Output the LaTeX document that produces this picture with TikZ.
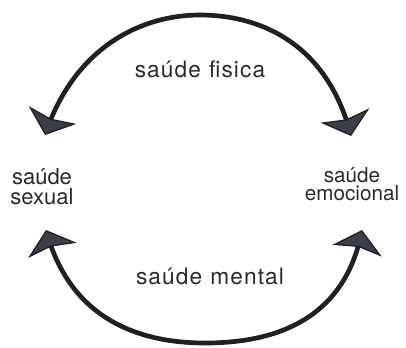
\documentclass[tikz,border=0pt]{standalone}
\usepackage{fontspec}
\setmainfont{TeX Gyre Heros}
\usetikzlibrary{arrows.meta,bending}
\definecolor{linecol}{HTML}{1F1F24}
\definecolor{tipcol}{HTML}{3B3E4B}
\definecolor{txtcol}{HTML}{2A2A2A}
\tikzset{
  lbl/.style={inner sep=0pt, text=txtcol, align=center},
  sidefont/.style={font=\fontsize{16.5}{15}\selectfont},
  midfont/.style={font=\addfontfeatures{LetterSpace=5}\fontsize{17}{15}\selectfont},
  bigtip/.tip={Stealth[length=16pt,width=38pt,inset=3pt,line width=1pt,fill=tipcol]},
  arc/.style={draw=linecol, line width=3.5pt, bigtip-bigtip}
}
\begin{document}
\begin{tikzpicture}[x=0.75pt,y=-0.75pt]
\useasboundingbox (0,0) rectangle (406,347);
\node[lbl, sidefont] (sex) at (42,187) {saúde\\sexual};
\node[lbl, font=\fontsize{15.5}{14}\selectfont] (emo) at (352,184) {saúde\\emocional};
\node[lbl, midfont, anchor=base] (fis) at (200,77) {saúde\hspace{6pt}fisica};
\node[lbl, midfont, anchor=base] (men) at (210,284) {saúde\hspace{6pt}mental};
\coordinate (tl) at (45,135);
\coordinate (tr) at (351,136);
\coordinate (bl) at (46,230);
\coordinate (br) at (362,230);
\draw[arc] (tl) .. controls (74,48) and (140,15) .. (200,15) .. controls (262,15) and (328,45) .. (tr);
\draw[arc] (bl) .. controls (70,320) and (140,343) .. (205,343) .. controls (275,343) and (345,320) .. (br);
\end{tikzpicture}
\end{document}
